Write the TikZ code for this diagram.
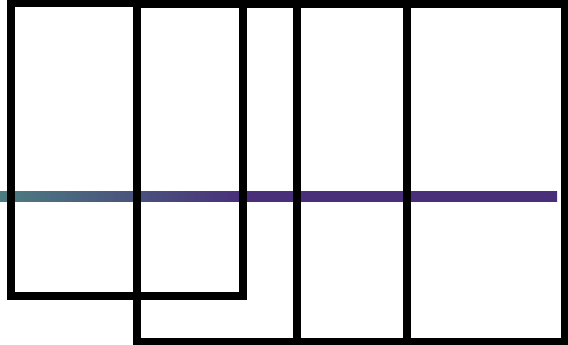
\documentclass[tikz,border=0pt]{standalone}
\definecolor{tealish}{RGB}{76,124,128}
\definecolor{purp}{RGB}{73,46,122}
\pgfdeclarehorizontalshading{barshade}{100bp}{color(0bp)=(tealish); color(25bp)=(tealish); color(47.4bp)=(purp); color(100bp)=(purp)}
\begin{document}
\begin{tikzpicture}[x=1pt,y=-1pt]
\tikzset{frame/.style={draw=black,line width=8.5pt,line join=miter}}
\useasboundingbox (0,0) rectangle (568,345);
% gradient bar
\shade[shading=barshade] (0,191.8) rectangle (557,201.2);
% rectangles
\draw[frame] (11,3) rectangle (243,296);
\draw[frame] (137,4) rectangle (565,342);
\draw[frame] (297,4) -- (297,342);
\draw[frame] (407,4) -- (407,342);
\end{tikzpicture}
\end{document}
